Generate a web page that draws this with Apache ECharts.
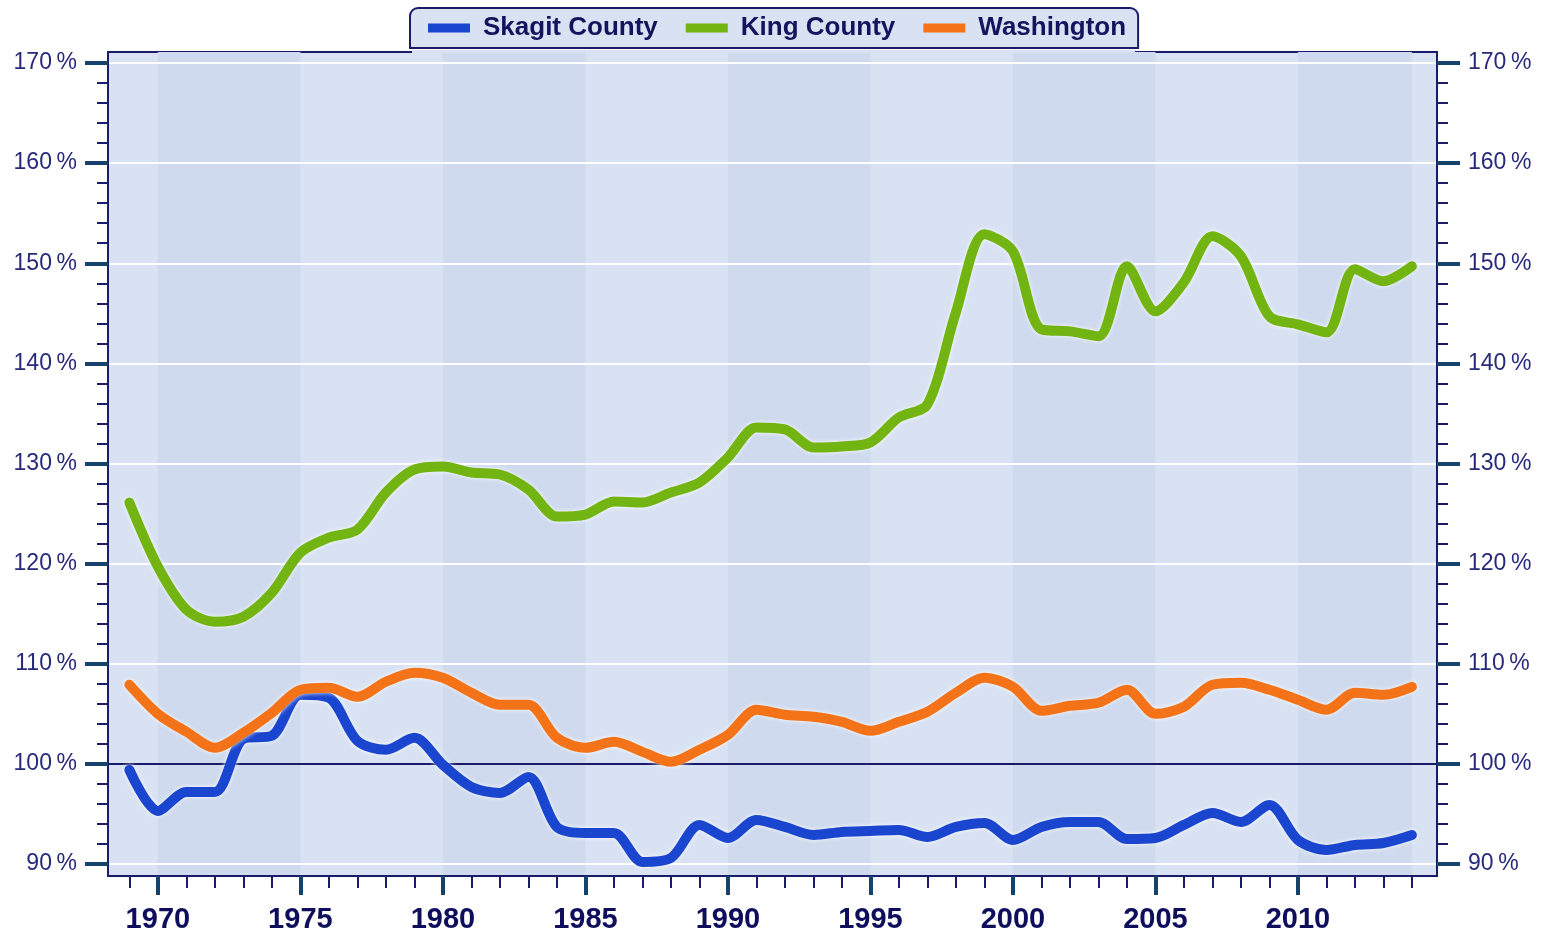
<!DOCTYPE html>
<html>
<head>
<meta charset="utf-8">
<script src="https://cdn.jsdelivr.net/npm/echarts@6/dist/echarts.min.js"></script>
<style>
  html, body { margin: 0; padding: 0; background: #fff; }
  #main { width: 1541px; height: 934px; }
</style>
</head>
<body>
<div id="main"></div>
<script>
// years on the x axis
var years = [1969, 1970, 1971, 1972, 1973, 1974, 1975, 1976, 1977, 1978, 1979,
  1980, 1981, 1982, 1983, 1984, 1985, 1986, 1987, 1988, 1989,
  1990, 1991, 1992, 1993, 1994, 1995, 1996, 1997, 1998, 1999,
  2000, 2001, 2002, 2003, 2004, 2005, 2006, 2007, 2008, 2009,
  2010, 2011, 2012, 2013, 2014]

var skagit = [99.4, 95.3, 97.2, 97.2, 102.5, 102.8, 106.9, 106.6, 102.3, 101.4, 102.6,
  99.9, 97.7, 97.1, 98.7, 93.7, 93.1, 93.1, 90.2, 90.6, 93.9,
  92.6, 94.4, 93.7, 92.9, 93.2, 93.3, 93.4, 92.7, 93.7, 94.1,
  92.4, 93.7, 94.2, 94.2, 92.5, 92.6, 93.9, 95.1, 94.2, 95.9,
  92.4, 91.4, 91.9, 92.1, 92.9]

var king = [126.1, 119.7, 115.4, 114.2, 114.7, 117.1, 121.1, 122.6, 123.4, 127.1, 129.4,
  129.7, 129.1, 128.9, 127.4, 124.7, 124.9, 126.2, 126.1, 127.1, 128.1,
  130.6, 133.6, 133.4, 131.6, 131.7, 132.1, 134.6, 135.9, 145.1, 152.9,
  151.2, 143.4, 143.2, 142.7, 149.7, 145.2, 148.1, 152.7, 150.7, 144.7,
  143.9, 143.1, 149.4, 148.2, 149.7]

var washington = [107.9, 105.0, 103.2, 101.6, 103.1, 105.1, 107.4, 107.6, 106.7, 108.2, 109.1,
  108.6, 107.1, 105.9, 105.9, 102.6, 101.6, 102.2, 101.2, 100.2, 101.4,
  102.9, 105.4, 104.9, 104.7, 104.2, 103.3, 104.2, 105.2, 107.1, 108.6,
  107.7, 105.3, 105.8, 106.1, 107.4, 105.0, 105.7, 107.9, 108.1, 107.4,
  106.4, 105.4, 107.1, 106.9, 107.7]

// axis ticks
var yearTicks = [1970, 1975, 1980, 1985, 1990, 1995, 2000, 2005, 2010]
var yearMinorTicks = [1969, 1971, 1972, 1973, 1974, 1976, 1977, 1978, 1979, 1981, 1982, 1983, 1984,
  1986, 1987, 1988, 1989, 1991, 1992, 1993, 1994, 1996, 1997, 1998, 1999,
  2001, 2002, 2003, 2004, 2006, 2007, 2008, 2009, 2011, 2012, 2013, 2014]
var pctTicks = [90, 100, 110, 120, 130, 140, 150, 160, 170]
var pctMinorTicks = [92, 94, 96, 98, 102, 104, 106, 108, 112, 114, 116, 118, 122, 124, 126, 128,
  132, 134, 136, 138, 142, 144, 146, 148, 152, 154, 156, 158, 162, 164, 166, 168]
// darker background bands
var bands = [[1970, 1975], [1980, 1985], [1990, 1995], [2000, 2005], [2010, 2014]]

var navy = '#1b1b6b'
var tickNavy = '#17426b'
var xMin = 1968.25, xMax = 2014.88
var yMin = 88.8, yMax = 171.1

function pairs(vals) {
  return years.map(function (y, i) { return [y, vals[i]] })
}

// split line colours: the 100% line is navy, the rest white
var splitColors = pctTicks.map(function (v) { return v === 100 ? navy : '#ffffff' })

function majorY(pos) {
  return {
    type: 'value', position: pos, min: yMin, max: yMax, z: 2,
    axisLine: { show: true, lineStyle: { color: navy, width: 2 } },
    axisTick: { show: true, customValues: pctTicks, length: 23, lineStyle: { color: tickNavy, width: 4 } },
    axisLabel: {
      customValues: pctTicks, margin: 31,
      formatter: function (v) { return v + '\u2009%' },
      color: '#272a7a', fontFamily: 'Liberation Sans', fontSize: 23
    },
    splitLine: pos === 'left' ? { show: true, lineStyle: { color: splitColors, width: 2 } } : { show: false }
  }
}
function minorY(pos) {
  return {
    type: 'value', position: pos, min: yMin, max: yMax, z: 2,
    axisLine: { show: false },
    axisTick: { show: true, customValues: pctMinorTicks, length: 11, lineStyle: { color: navy, width: 2 } },
    axisLabel: { show: false },
    splitLine: { show: false }
  }
}

function seriesFor(name, vals, c) {
  return {
    name: name, type: 'line', z: 3, data: pairs(vals), smooth: 0.3, showSymbol: false,
    itemStyle: { color: c },
    lineStyle: {
      color: c, width: 10, cap: 'round', join: 'round',
      shadowColor: 'rgba(255,255,255,0.95)', shadowBlur: 4
    }
  }
}

var chartDom = document.getElementById('main')
var myChart = echarts.init(chartDom)

var option = {
  animation: false,
  legend: {
    data: ['Skagit County', 'King County', 'Washington'],
    left: 410, top: 8,
    padding: [7, 12, 7, 18],
    itemGap: 28, itemWidth: 42, itemHeight: 9,
    icon: 'rect',
    backgroundColor: '#d9e2f3',
    borderColor: navy, borderWidth: 2, borderRadius: [8, 8, 0, 0],
    textStyle: {
      color: '#14145e', fontFamily: 'Liberation Sans', fontWeight: 'bold', fontSize: 26,
      padding: [0, 0, 0, 8]
    }
  },
  graphic: [{
    type: 'rect', z: 100,
    shape: { x: 412, y: 50, width: 723, height: 3 },
    style: { fill: '#d9e2f3' }
  }],
  grid: {
    left: 108, right: 104, top: 52, bottom: 58,
    show: true, backgroundColor: '#d9e2f3', borderColor: navy, borderWidth: 2
  },
  xAxis: [{
    type: 'value', min: xMin, max: xMax, position: 'bottom', z: 2,
    axisLine: { show: true, lineStyle: { color: navy, width: 2 } },
    axisTick: { show: true, customValues: yearTicks, length: 19, lineStyle: { color: tickNavy, width: 4 } },
    axisLabel: {
      customValues: yearTicks, margin: 29,
      formatter: function (v) { return String(v) },
      color: '#0e0e5c', fontFamily: 'Liberation Sans', fontWeight: 'bold', fontSize: 29
    },
    splitLine: { show: false }
  }, {
    type: 'value', min: xMin, max: xMax, position: 'bottom', z: 2,
    axisLine: { show: false },
    axisTick: { show: true, customValues: yearMinorTicks, length: 12, lineStyle: { color: navy, width: 2 } },
    axisLabel: { show: false },
    splitLine: { show: false }
  }],
  yAxis: [majorY('left'), minorY('left'), majorY('right'), minorY('right')],
  series: [
    {
      type: 'line', data: [], z: 1, silent: true,
      markArea: {
        silent: true,
        itemStyle: { color: '#cfdaee' },
        data: bands.map(function (b) { return [{ xAxis: b[0] }, { xAxis: b[1] }] })
      }
    },
    seriesFor('Skagit County', skagit, '#1a45cf'),
    seriesFor('King County', king, '#72b412'),
    seriesFor('Washington', washington, '#f47318')
  ]
}

option && myChart.setOption(option)
</script>
</body>
</html>
